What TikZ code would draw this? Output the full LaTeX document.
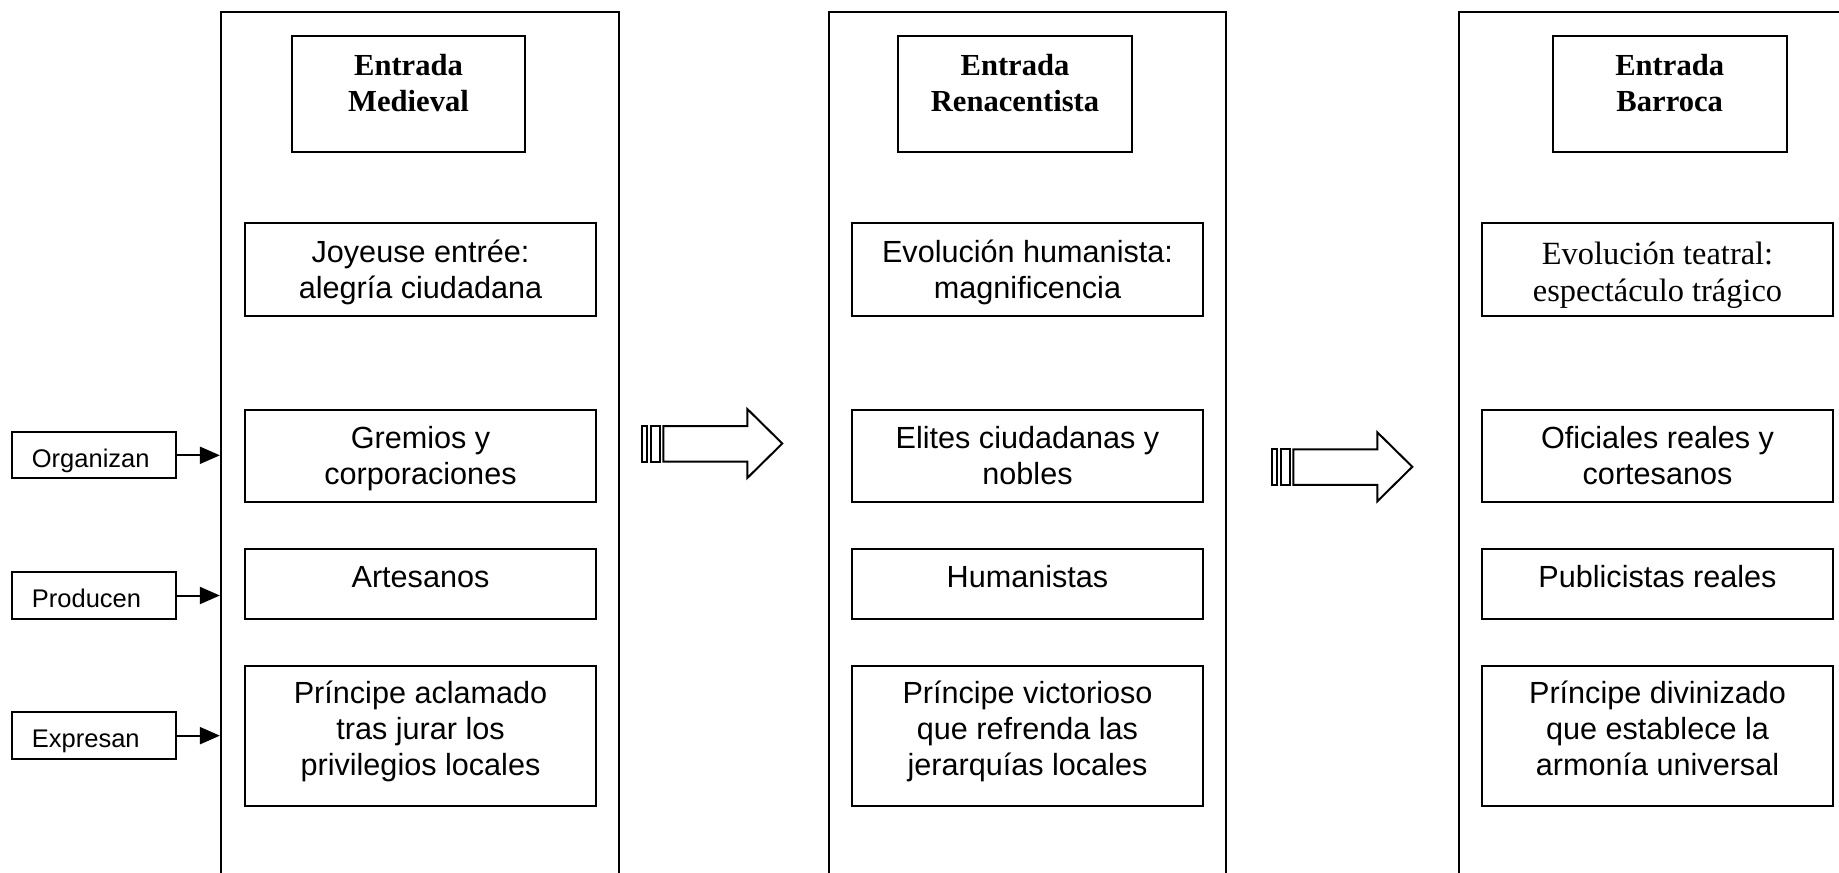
\documentclass[tikz,border=0pt]{standalone}
\usepackage{fontspec}
\setmainfont{Liberation Serif}
\newfontfamily\arial{Liberation Sans}
\usetikzlibrary{fit,arrows.meta}
\tikzset{
  colbox/.style={draw, line width=1.1pt, inner sep=0pt},
  box/.style={draw, line width=1pt, inner sep=0pt},
  ctext/.style={font=\arial\fontsize{15.3}{18}\selectfont, align=center, inner sep=0pt, anchor=north},
  stext/.style={font=\fontsize{16.2}{18.4}\selectfont, align=center, inner sep=0pt, anchor=north},
  ttext/.style={font=\bfseries\fontsize{15.3}{18}\selectfont, align=center, inner sep=0pt, anchor=north},
  ltext/.style={font=\arial\fontsize{12.75}{15}\selectfont, inner sep=0pt, anchor=base west},
  conn/.style={line width=1pt, -{Triangle[length=10pt,width=8.5pt]}},
  blockarrow/.style={draw, line width=1pt, line join=miter}
}
\begin{document}
\begin{tikzpicture}[x=0.5pt,y=-0.5pt]
\useasboundingbox (0,0) rectangle (1839,872);
\clip (0,0) rectangle (1839,872);

% columns (open at the bottom / right)
\node[colbox, fit={(221,12) (619,900)}] (col1) {};
\node[colbox, fit={(829,12) (1226,900)}] (col2) {};
\node[colbox, fit={(1459,12) (1870,900)}] (col3) {};

% title boxes
\node[box, fit={(291.7,35.7) (525.3,152.3)}] (t1) {};
\node[box, fit={(898,35.7) (1132,152.3)}] (t2) {};
\node[box, fit={(1552.7,35.7) (1786.7,152.3)}] (t3) {};
\node[ttext] (t1t) at ([yshift=-7.5pt]t1.north) {\strut Entrada\\Medieval};
\node[ttext] (t2t) at ([yshift=-7.5pt]t2.north) {\strut Entrada\\Renacentista};
\node[ttext] (t3t) at ([yshift=-7.5pt]t3.north) {\strut Entrada\\Barroca};

% column 1
\node[box, fit={(245,222.5) (596,315.5)}] (a1) {};
\node[box, fit={(245,409.5) (596,502)}] (a2) {};
\node[box, fit={(245,549) (596,619)}] (a3) {};
\node[box, fit={(245,665.7) (596,805.7)}] (a4) {};
\node[ctext] (a1t) at ([yshift=-7.5pt]a1.north) {\strut Joyeuse entrée:\\alegría ciudadana};
\node[ctext] (a2t) at ([yshift=-7pt]a2.north) {\strut Gremios y\\corporaciones};
\node[ctext] (a3t) at ([yshift=-7pt]a3.north) {\strut Artesanos};
\node[ctext] (a4t) at ([yshift=-6.7pt]a4.north) {\strut Príncipe aclamado\\tras jurar los\\privilegios locales};

% column 2
\node[box, fit={(852,222.5) (1203,315.5)}] (b1) {};
\node[box, fit={(852,409.5) (1203,502)}] (b2) {};
\node[box, fit={(852,549) (1203,619)}] (b3) {};
\node[box, fit={(852,665.7) (1203,805.7)}] (b4) {};
\node[ctext] (b1t) at ([yshift=-7.5pt]b1.north) {\strut Evolución humanista:\\magnificencia};
\node[ctext] (b2t) at ([yshift=-7pt]b2.north) {\strut Elites ciudadanas y\\nobles};
\node[ctext] (b3t) at ([yshift=-7pt]b3.north) {\strut Humanistas};
\node[ctext] (b4t) at ([yshift=-6.7pt]b4.north) {\strut Príncipe victorioso\\que refrenda las\\jerarquías locales};

% column 3
\node[box, fit={(1482,222.5) (1833,315.5)}] (c1) {};
\node[box, fit={(1482,409.5) (1833,502)}] (c2) {};
\node[box, fit={(1482,549) (1833,619)}] (c3) {};
\node[box, fit={(1482,665.7) (1833,805.7)}] (c4) {};
\node[stext] (c1t) at ([yshift=-8.4pt]c1.north) {\strut Evolución teatral:\\espectáculo trágico};
\node[ctext] (c2t) at ([yshift=-7pt]c2.north) {\strut Oficiales reales y\\cortesanos};
\node[ctext] (c3t) at ([yshift=-7pt]c3.north) {\strut Publicistas reales};
\node[ctext] (c4t) at ([yshift=-6.7pt]c4.north) {\strut Príncipe divinizado\\que establece la\\armonía universal};

% side labels
\node[box, fit={(11.7,432.3) (175.7,478.3)}] (l1) {};
\node[box, fit={(11.7,572.3) (175.7,618.7)}] (l2) {};
\node[box, fit={(11.7,712.3) (175.7,759)}] (l3) {};
\node[ltext] (l1t) at (31.5,467.3) {Organizan};
\node[ltext] (l2t) at (31.5,607.3) {Producen};
\node[ltext] (l3t) at (31.5,747.3) {Expresan};
\draw[conn] (l1.east) -- (l1.east -| col1.west);
\draw[conn] (l2.east) -- (l2.east -| col1.west);
\draw[conn] (l3.east) -- (l3.east -| col1.west);

% striped block arrows between columns
\begin{scope}
\draw[blockarrow] (642.3,426) rectangle (646.7,461.5);
\draw[blockarrow] (650.7,426) rectangle (660,461.5);
\draw[blockarrow] (663.3,426) -- (747.3,426) -- (747.3,409) -- (782.3,443.5)
  -- (747.3,478) -- (747.3,461.5) -- (663.3,461.5) -- cycle;
\end{scope}
\begin{scope}[shift={(630,23.3)}]
\draw[blockarrow] (642.3,426) rectangle (646.7,461.5);
\draw[blockarrow] (650.7,426) rectangle (660,461.5);
\draw[blockarrow] (663.3,426) -- (747.3,426) -- (747.3,409) -- (782.3,443.5)
  -- (747.3,478) -- (747.3,461.5) -- (663.3,461.5) -- cycle;
\end{scope}
\end{tikzpicture}
\end{document}
